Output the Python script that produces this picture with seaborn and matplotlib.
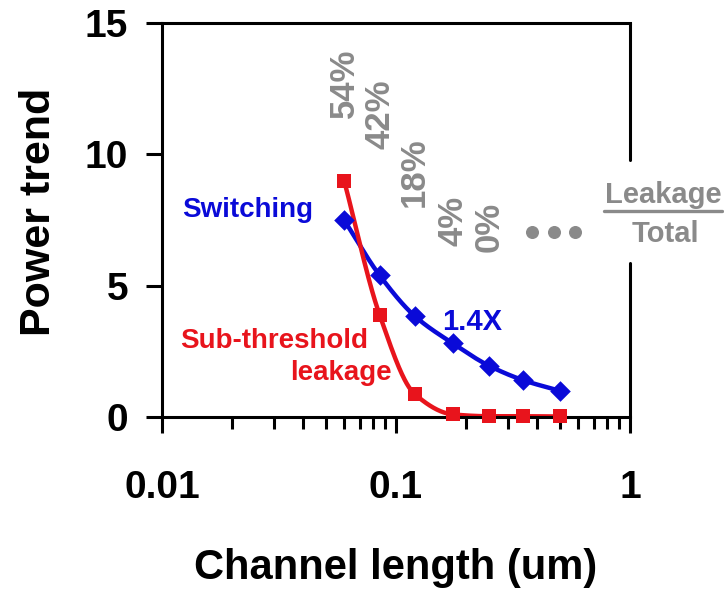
import numpy as np
import pandas as pd
import matplotlib
matplotlib.use("Agg")
import matplotlib.pyplot as plt
import seaborn as sns
from matplotlib.ticker import LogLocator, FixedLocator, NullFormatter

# ---------------- data ----------------
channel_length = [0.06, 0.085, 0.12, 0.175, 0.25, 0.35, 0.5]
switching = [7.5, 5.4, 3.85, 2.8, 1.95, 1.4, 1.0]
leakage = [9.0, 3.9, 0.88, 0.1, 0.03, 0.03, 0.02]
leak_pct = ["54%", "42%", "18%", "4%", "0%"]
leak_pct_y = [11.4, 10.2, 8.0, 6.5, 6.3]
dots_x = [0.38, 0.472, 0.58]
dots_y = [7.05, 7.05, 7.05]
x_ticks = [0.01, 0.1, 1]
x_ticklabels = ["0.01", "0.1", "1"]
y_ticks = [0, 5, 10, 15]

BLUE = "#0a0ad8"
RED = "#e8141c"
GRAY = "#8a8a8a"

sns.set_style("ticks")
plt.rcParams["font.family"] = ["Liberation Sans", "DejaVu Sans"]
plt.rcParams["font.weight"] = "bold"
for k in ["text.color", "axes.labelcolor", "xtick.color", "ytick.color"]:
    plt.rcParams[k] = "black"


def pchip(x, y, xn):
    x = np.asarray(x, float); y = np.asarray(y, float)
    h = np.diff(x); d = np.diff(y) / h
    n = len(x); m = np.zeros(n)
    m[0] = d[0]; m[-1] = d[-1]
    for k in range(1, n - 1):
        if d[k - 1] * d[k] > 0:
            w1 = 2 * h[k] + h[k - 1]; w2 = h[k] + 2 * h[k - 1]
            m[k] = (w1 + w2) / (w1 / d[k - 1] + w2 / d[k])
    idx = np.clip(np.searchsorted(x, xn) - 1, 0, n - 2)
    t = (xn - x[idx]) / h[idx]
    h00 = 2 * t**3 - 3 * t**2 + 1; h10 = t**3 - 2 * t**2 + t
    h01 = -2 * t**3 + 3 * t**2; h11 = t**3 - t**2
    return h00 * y[idx] + h10 * h[idx] * m[idx] + h01 * y[idx + 1] + h11 * h[idx] * m[idx + 1]


lx = np.log10(channel_length)
xs = np.linspace(lx[0], lx[-1], 300)
curve = pd.DataFrame({
    "x": np.concatenate([10**xs, 10**xs]),
    "y": np.concatenate([pchip(lx, switching, xs), pchip(lx, leakage, xs)]),
    "series": ["Switching"] * len(xs) + ["Leakage"] * len(xs),
})
pts = pd.DataFrame({"x": channel_length, "sw": switching, "lk": leakage})

fig = plt.figure(figsize=(7.24, 5.96), dpi=100)
ax = fig.add_axes([0.2238, 0.3003, 0.6464, 0.6611])

sns.lineplot(data=curve, x="x", y="y", hue="series",
             palette={"Switching": BLUE, "Leakage": RED},
             linewidth=3.2, legend=False, ax=ax, zorder=2)
sns.scatterplot(data=pts, x="x", y="lk", marker="s", s=95, color=RED,
                edgecolor=RED, linewidth=0, ax=ax, zorder=3, clip_on=False)
sns.scatterplot(data=pts, x="x", y="sw", marker="D", s=110, color=BLUE,
                edgecolor=BLUE, linewidth=0, ax=ax, zorder=4, clip_on=False)

ax.set_xscale("log")
ax.set_xlim(0.01, 1)
ax.set_ylim(0, 15)
ax.xaxis.set_major_locator(FixedLocator(x_ticks))
ax.set_xticklabels(x_ticklabels)
ax.xaxis.set_minor_locator(LogLocator(base=10, subs=np.arange(2, 10)))
ax.xaxis.set_minor_formatter(NullFormatter())
ax.set_yticks(y_ticks)
ax.set_yticklabels([str(v) for v in y_ticks])

ax.tick_params(axis="x", which="major", direction="out", length=11.5, width=2.2,
               labelsize=28, pad=27)
ax.tick_params(axis="x", which="minor", direction="out", length=8.5, width=2.2)
ax.tick_params(axis="y", which="major", direction="out", length=11.5, width=2.2,
               labelsize=28, pad=13)
ax.tick_params(axis="y", which="minor", length=0)
for lab in ax.get_xticklabels() + ax.get_yticklabels():
    lab.set_fontweight("bold")

for s in ["left", "bottom", "top"]:
    ax.spines[s].set_linewidth(2.2)
    ax.spines[s].set_color("black")
ax.spines["right"].set_visible(False)
ax.axvline(1, ymin=0, ymax=0.39, color="black", lw=2.2, clip_on=False)
ax.axvline(1, ymin=0.652, ymax=1, color="black", lw=2.2, clip_on=False)

ax.set_xlabel("Channel length (um)", fontsize=30, fontweight="bold", labelpad=30)
ax.set_ylabel("Power trend", fontsize=31, fontweight="bold")
ax.yaxis.set_label_coords(-0.22, 0.52)

# annotations (axes-fraction positions)
ax.text(0.0427, 0.5076, "Switching", color=BLUE, fontsize=20, fontweight="bold",
        ha="left", va="baseline", transform=ax.transAxes)
ax.text(0.598, 0.221, "1.4X", color=BLUE, fontsize=21, fontweight="bold",
        ha="left", va="baseline", transform=ax.transAxes)
ax.text(0.0385, 0.175, "Sub-threshold", color=RED, fontsize=20, fontweight="bold",
        ha="left", va="baseline", transform=ax.transAxes)
ax.text(0.491, 0.094, "leakage", color=RED, fontsize=20, fontweight="bold",
        ha="right", va="baseline", transform=ax.transAxes)
for xv, yv, t in zip(channel_length, leak_pct_y, leak_pct):
    ax.text(xv, yv, t, color=GRAY, fontsize=25, fontweight="bold", rotation=90,
            ha="center", va="bottom")
ax.scatter(dots_x, dots_y, s=70, color=GRAY, clip_on=False, zorder=5)

fig.text(663 / 724, 1 - 203 / 596, "Leakage", color=GRAY, fontsize=21,
         fontweight="bold", ha="center", va="baseline")
fig.add_artist(plt.Line2D([604 / 724, 722 / 724], [1 - 211 / 596, 1 - 211 / 596],
                          color=GRAY, lw=2.4))
fig.text(665 / 724, 1 - 242 / 596, "Total", color=GRAY, fontsize=21,
         fontweight="bold", ha="center", va="baseline")

fig.savefig("out.png", dpi=100)
